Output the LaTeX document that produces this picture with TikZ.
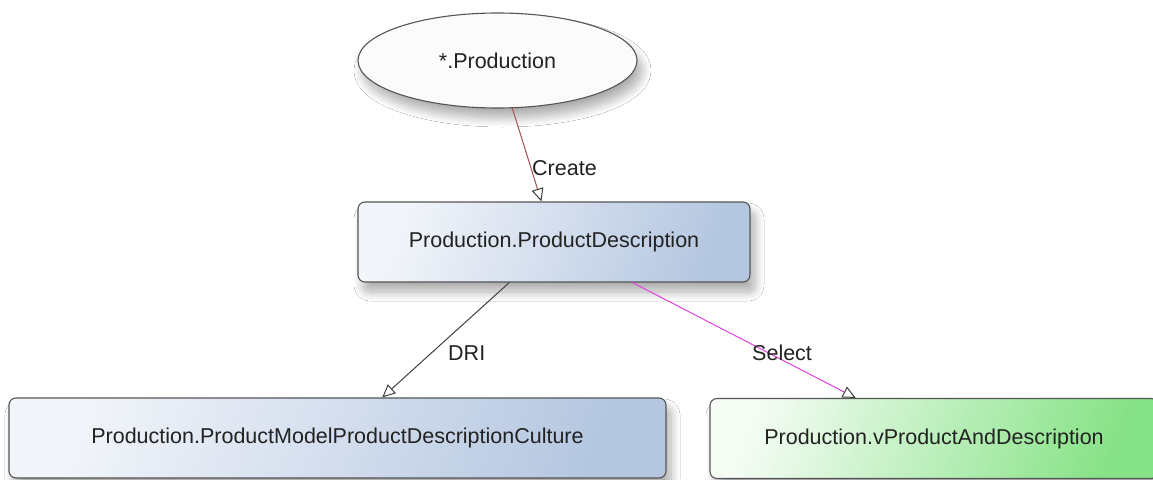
\documentclass[tikz,border=0pt]{standalone}
\usepackage{fontspec}
\setmainfont{Liberation Sans}
\usetikzlibrary{arrows.meta,shadows.blur,shapes.geometric}
\definecolor{txt}{HTML}{222222}
\definecolor{edge}{HTML}{555555}
\definecolor{bluea}{HTML}{F2F5FA}
\definecolor{blueb}{HTML}{B4C6E0}
\definecolor{greena}{HTML}{F4FCF4}
\definecolor{greenb}{HTML}{86E286}
\definecolor{ellfill}{HTML}{FBFBFB}
\definecolor{createc}{HTML}{A85050}
\definecolor{selectc}{HTML}{E040E0}
\definecolor{dric}{HTML}{404040}
\tikzset{
  soft/.style={blur shadow={shadow xshift=5pt, shadow yshift=-10pt, shadow blur radius=9pt, shadow blur steps=10, shadow opacity=32}},
  entity/.style={rectangle, rounded corners=7pt, draw=edge, line width=1.1pt, minimum height=80pt, inner sep=0pt, soft, text=txt},
  bluebox/.style={entity, left color=bluea, right color=blueb, shading angle=70},
  greenbox/.style={entity, left color=greena, right color=greenb, shading angle=70},
  ellnode/.style={ellipse, draw=edge, line width=1.1pt, fill=ellfill, inner sep=0pt, soft, text=txt},
  tip/.style={-{Triangle[length=13pt, width=12pt, fill=white, color=black!75, line width=1pt]}},
  conn/.style={line width=1pt, tip, shorten >=0pt},
  lbl/.style={text=txt, inner sep=0pt}
}
\begin{document}
\begin{tikzpicture}[x=1pt, y=-1pt, font=\fontsize{21.5}{24}\selectfont]
\useasboundingbox (0,0) rectangle (1153,479);
\fill[white] (0,0) rectangle (1153,479);

\node[ellnode, minimum width=279pt, minimum height=95pt] (ell) at (497.5,60.5) {*.Production};
\node[bluebox, minimum width=392pt] (pd) at (554,242) {Production.ProductDescription};
\node[bluebox, minimum width=657pt] (pm) at (337.5,438) {Production.ProductModelProductDescriptionCulture};
\node[greenbox, minimum width=448pt] (vp) at (934,438.5) {Production.vProductAndDescription};

\draw[conn, draw=createc] (ell) -- (pd);
\draw[conn, draw=dric] (pd) -- (pm);
\draw[conn, draw=selectc] (pd) -- (vp);

\node[lbl, anchor=base west] (lcreate) at (532,175) {Create};
\node[lbl, anchor=base west] (ldri) at (448,360) {DRI};
\node[lbl, anchor=base west] (lselect) at (752,360) {Select};
\end{tikzpicture}
\end{document}
